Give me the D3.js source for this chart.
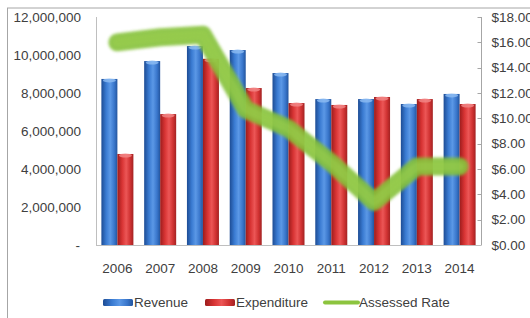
<!DOCTYPE html>
<html>
<head>
  <script src="https://d3js.org/d3.v7.min.js"></script>
  <style>
    body { margin: 0; background: #fff; }
    text { font-family: "Liberation Sans", Arial, sans-serif; fill: #404040; }
  </style>
</head>
<body>
  <div id="chart"></div>
  <script>
    var years = ["2006", "2007", "2008", "2009", "2010", "2011", "2012", "2013", "2014"];
    var revenue = [8740000, 9680000, 10470000, 10260000, 9050000, 7680000, 7680000, 7420000, 7950000];
    var expenditure = [4790000, 6890000, 9800000, 8260000, 7470000, 7370000, 7790000, 7680000, 7420000];
    var assessedRate = [16.0, 16.4, 16.6, 10.7, 9.2, 6.5, 3.4, 6.2, 6.2];
    var leftTicks = [0, 2000000, 4000000, 6000000, 8000000, 10000000, 12000000];
    var rightTicks = [0, 2, 4, 6, 8, 10, 12, 14, 16, 18];

    var width = 530, height = 318;
    var plotLeft = 96, plotRight = 481, plotTop = 17, plotBottom = 245;

    var svg = d3.select("#chart").append("svg")
      .attr("width", width)
      .attr("height", height);

    var defs = svg.append("defs");
    function barGradient(id, stops) {
      var g = defs.append("linearGradient").attr("id", id)
        .attr("x1", "0%").attr("x2", "100%").attr("y1", "0%").attr("y2", "0%");
      stops.forEach(function(s) {
        g.append("stop").attr("offset", s[0]).attr("stop-color", s[1]);
      });
    }
    barGradient("blueGrad", [["0%", "#1d4c94"], ["30%", "#3a7bd2"], ["55%", "#5b98e6"], ["80%", "#3a77cc"], ["100%", "#23559e"]]);
    barGradient("redGrad", [["0%", "#9c1c1c"], ["30%", "#d83434"], ["55%", "#ec5656"], ["80%", "#d03232"], ["100%", "#a32222"]]);
    defs.append("filter").attr("id", "soft")
      .attr("x", "-10%").attr("y", "-20%").attr("width", "120%").attr("height", "140%")
      .append("feGaussianBlur").attr("stdDeviation", 1.8);

    // frame of the screenshot
    svg.append("line").attr("x1", 7).attr("x2", width).attr("y1", 8).attr("y2", 8)
      .attr("stroke", "#a6a6a6").attr("stroke-width", 1);
    svg.append("line").attr("x1", 7.5).attr("x2", 7.5).attr("y1", 8).attr("y2", height)
      .attr("stroke", "#a6a6a6").attr("stroke-width", 1);

    var x = d3.scaleBand().domain(years).range([plotLeft, plotRight]).paddingInner(0).paddingOuter(0);
    var y = d3.scaleLinear().domain([0, 12000000]).range([plotBottom, plotTop]);
    var y2 = d3.scaleLinear().domain([0, 18]).range([plotBottom, plotTop]);
    var barW = 16;

    // left axis labels
    svg.append("g").selectAll("text").data(leftTicks).enter().append("text")
      .attr("x", function(d) { return d === 0 ? 80 : 81; })
      .attr("y", function(d) { return y(d); })
      .attr("dy", "0.35em")
      .attr("text-anchor", "end")
      .style("font-size", "13.5px")
      .text(function(d) { return d === 0 ? "-" : d3.format(",")(d); });

    svg.append("line").attr("x1", plotLeft + 0.5).attr("x2", plotLeft + 0.5).attr("y1", plotTop).attr("y2", plotBottom)
      .attr("stroke", "#bfbfbf");

    // right axis
    var rAxis = svg.append("g").attr("transform", "translate(" + (plotRight + 0.5) + ",0)");
    rAxis.append("line").attr("y1", plotTop).attr("y2", plotBottom).attr("stroke", "#a6a6a6");
    rAxis.selectAll("line.t").data(rightTicks).enter().append("line").attr("class", "t")
      .attr("x1", -4).attr("x2", 0)
      .attr("y1", function(d) { return Math.round(y2(d)) + 0.5; })
      .attr("y2", function(d) { return Math.round(y2(d)) + 0.5; })
      .attr("stroke", "#a6a6a6");
    rAxis.selectAll("text").data(rightTicks).enter().append("text")
      .attr("x", 10)
      .attr("y", function(d) { return y2(d); })
      .attr("dy", "0.35em")
      .style("font-size", "13.5px")
      .text(function(d) { return "$" + d3.format(".2f")(d); });

    // bars
    var groups = svg.append("g").selectAll("g").data(years).enter().append("g");
    function drawBars(values, offset, grad, cap) {
      groups.append("rect")
        .attr("x", function(d, i) { return x(d) + x.bandwidth() / 2 + offset; })
        .attr("y", function(d, i) { return y(values[i]); })
        .attr("width", barW)
        .attr("height", function(d, i) { return plotBottom - y(values[i]); })
        .attr("fill", "url(#" + grad + ")");
      groups.append("ellipse")
        .attr("cx", function(d, i) { return x(d) + x.bandwidth() / 2 + offset + barW / 2; })
        .attr("cy", function(d, i) { return y(values[i]) + 1.5; })
        .attr("rx", barW / 2 - 1.5)
        .attr("ry", 2)
        .attr("fill", cap)
        .attr("opacity", 0.8);
    }
    drawBars(revenue, -barW, "blueGrad", "#8fbdf2");
    drawBars(expenditure, 0, "redGrad", "#f28a8a");

    // x axis baseline and labels
    svg.append("line").attr("x1", plotLeft).attr("x2", plotRight).attr("y1", plotBottom + 0.5).attr("y2", plotBottom + 0.5)
      .attr("stroke", "#bfbfbf");
    svg.append("g").selectAll("text").data(years).enter().append("text")
      .attr("x", function(d) { return x(d) + x.bandwidth() / 2; })
      .attr("y", 268)
      .attr("text-anchor", "middle")
      .attr("dy", "0.35em")
      .style("font-size", "13.5px")
      .text(function(d) { return d; });

    // assessed rate line
    var line = d3.line()
      .x(function(d, i) { return x(years[i]) + x.bandwidth() / 2; })
      .y(function(d) { return y2(d); });
    svg.append("path").datum(assessedRate)
      .attr("d", line)
      .attr("fill", "none")
      .attr("stroke", "#86c23a")
      .attr("stroke-width", 18)
      .attr("stroke-linejoin", "round")
      .attr("stroke-linecap", "round")
      .attr("opacity", 0.9)
      .attr("filter", "url(#soft)");
    svg.append("path").datum(assessedRate)
      .attr("d", line)
      .attr("fill", "none")
      .attr("stroke", "#99cd4c")
      .attr("stroke-width", 9)
      .attr("stroke-linejoin", "round")
      .attr("stroke-linecap", "round")
      .attr("opacity", 0.6)
      .attr("filter", "url(#soft)");

    // legend
    var legend = svg.append("g");
    var lg = [
      { name: "Revenue", type: "bar", fill: "url(#blueGrad)", x: 103 },
      { name: "Expenditure", type: "bar", fill: "url(#redGrad)", x: 205 },
      { name: "Assessed Rate", type: "line", fill: "#8cc43e", x: 325 }
    ];
    lg.forEach(function(d) {
      if (d.type === "bar") {
        legend.append("rect").attr("x", d.x).attr("y", 299).attr("width", 30).attr("height", 7)
          .attr("fill", d.fill).attr("rx", 1.5);
      } else {
        legend.append("line").attr("x1", d.x).attr("x2", d.x + 33).attr("y1", 302.5).attr("y2", 302.5)
          .attr("stroke", d.fill).attr("stroke-width", 4).attr("stroke-linecap", "round");
      }
      legend.append("text").attr("x", d.x + (d.type === "bar" ? 31 : 34)).attr("y", 302.5)
        .attr("dy", "0.35em")
        .style("font-size", "13.5px")
        .text(d.name);
    });
  </script>
</body>
</html>
